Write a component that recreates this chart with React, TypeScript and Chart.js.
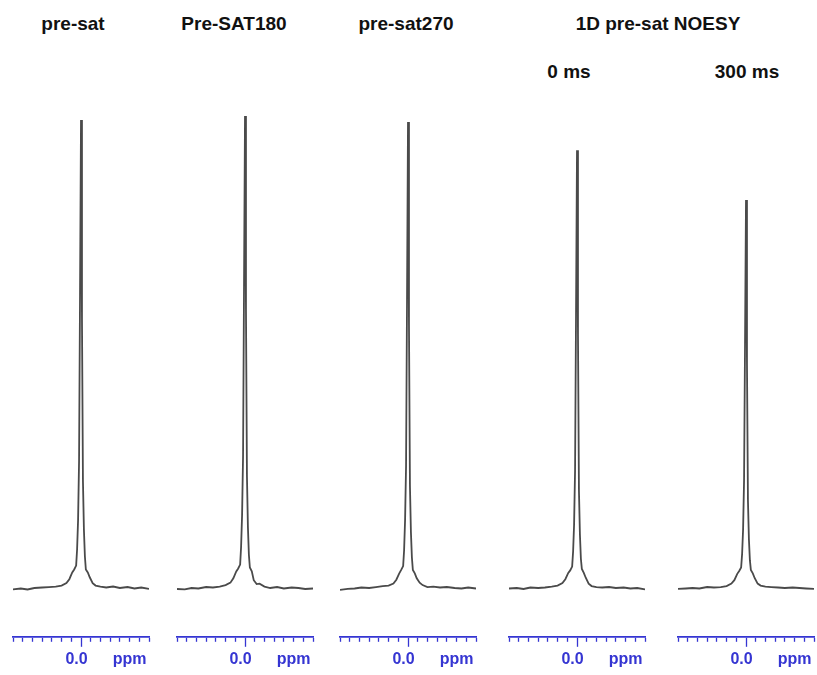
import React, { useEffect, useRef } from "react";
import { Chart, registerables } from "chart.js";

Chart.register(...registerables);

// Chemical-shift positions (ppm) shared by all five spectra (left = positive, NMR style)
const ppmPositions = [
  0.7, 0.62, 0.55, 0.48, 0.4, 0.33, 0.26, 0.2, 0.15, 0.12, 0.09, 0.07, 0.05, 0.04, 0.03, 0.02, 0.01, 0.0,
  -0.01, -0.02, -0.03, -0.04, -0.05, -0.07, -0.09, -0.12, -0.15, -0.2, -0.26, -0.33, -0.4, -0.48, -0.55, -0.62, -0.7,
];

// Intensities
const presatValues = [
  -0.3, -0.1, -0.3, 0.0, 0.1, 0.2, 0.3, 0.5, 1.0, 1.8, 3.2, 3.8, 4.6, 8, 14, 26, 60, 95.9,
  55, 22, 12, 6.5, 3.8, 3.2, 2.2, 1.0, 0.5, 0.3, 0.1, 0.3, 0.0, 0.2, -0.1, 0.1, -0.2,
];
const presat180Values = [
  -0.2, -0.3, 0.0, -0.1, 0.2, 0.1, 0.3, 0.6, 1.1, 2.0, 3.4, 4.0, 4.8, 8.5, 15, 27, 62, 96.7,
  57, 23, 12.5, 6.8, 4.2, 3.4, 1.6, 0.8, 0.9, 0.3, 0.0, 0.2, -0.1, 0.1, 0.0, -0.2, -0.1,
];
const presat270Values = [
  -0.4, -0.2, -0.1, 0.1, 0.0, 0.2, 0.4, 0.5, 0.9, 1.7, 3.0, 3.7, 4.5, 7.8, 14, 25, 59, 95.5,
  54, 21, 11.5, 6.3, 3.7, 3.0, 2.0, 1.1, 0.6, 0.2, 0.3, 0.1, 0.2, 0.0, -0.1, 0.1, -0.1,
];
const noesy0Values = [
  -0.1, 0.0, -0.2, 0.1, 0.0, 0.1, 0.3, 0.5, 1.0, 1.8, 3.1, 3.6, 4.4, 7.5, 13, 24, 56, 89.7,
  52, 20, 11, 6.0, 3.9, 3.1, 2.1, 0.9, 0.4, 0.2, 0.1, 0.2, 0.0, 0.1, -0.1, 0.0, -0.3,
];
const noesy300Values = [
  -0.2, -0.1, 0.0, -0.1, 0.2, 0.1, 0.2, 0.4, 0.9, 1.6, 2.9, 3.5, 4.2, 7.0, 12, 22, 50, 79.5,
  46, 18, 10, 5.7, 3.7, 3.0, 2.0, 0.9, 0.5, 0.3, 0.2, 0.1, 0.0, 0.1, 0.0, -0.1, -0.2,
];

const panelTitles = ["pre-sat", "Pre-SAT180", "pre-sat270", "0 ms", "300 ms"];
const groupTitle = "1D pre-sat NOESY";
const axisLabels = ["0.0", "ppm"]; // label at 0 ppm, unit label
const unitTickValue = -0.5;

const BLUE = "#3535d2";
const LINE = "#4a4a4a";

type Panel = { values: number[]; left: number; width: number; title: string; titleX: number; titleY: number };

const panels: Panel[] = [
  { values: presatValues, left: 10, width: 142, title: panelTitles[0], titleX: 73, titleY: 14 },
  { values: presat180Values, left: 174, width: 142, title: panelTitles[1], titleX: 234, titleY: 14 },
  { values: presat270Values, left: 337, width: 142, title: panelTitles[2], titleX: 406, titleY: 14 },
  { values: noesy0Values, left: 506, width: 142, title: panelTitles[3], titleX: 569, titleY: 62 },
  { values: noesy300Values, left: 675, width: 142, title: panelTitles[4], titleX: 747, titleY: 62 },
];

const CANVAS_TOP = 100;
const CANVAS_H = 572;

function Spectrum({ values }: { values: number[] }) {
  const ref = useRef<HTMLCanvasElement | null>(null);
  useEffect(() => {
    if (!ref.current) return;
    const chart = new Chart(ref.current, {
      type: "line",
      data: {
        datasets: [
          {
            data: ppmPositions.map((x, i) => ({ x, y: values[i] })),
            borderColor: LINE,
            borderWidth: 1.8,
            pointRadius: 0,
            tension: 0,
            fill: false,
          },
        ],
      },
      options: {
        animation: false,
        responsive: false,
        maintainAspectRatio: false,
        layout: { padding: 0 },
        plugins: { legend: { display: false }, tooltip: { enabled: false }, title: { display: false } },
        scales: {
          x: {
            type: "linear",
            reverse: true,
            min: -0.7,
            max: 0.7,
            border: { display: true, color: BLUE, width: 1.8 },
            grid: {
              drawOnChartArea: false,
              drawTicks: true,
              tickLength: 10,
              tickColor: BLUE,
              tickWidth: 1.3,
              tickBorderDash: (ctx: any) =>
                ctx.tick && Math.abs(ctx.tick.value) < 1e-6 ? [] : [4, 40],
            },
            ticks: {
              stepSize: 0.1,
              autoSkip: false,
              maxRotation: 0,
              padding: 3,
              color: BLUE,
              font: { family: "'Liberation Sans', Arial, sans-serif", size: 16, weight: "bold" },
              callback: (value: any) => {
                const v = Number(value);
                if (Math.abs(v) < 1e-6) return axisLabels[0] + "  ";
                if (Math.abs(v - unitTickValue) < 1e-6) return axisLabels[1];
                return "";
              },
            },
          },
          y: { display: false, min: -10, max: 100 },
        },
      },
    } as any);
    return () => chart.destroy();
  }, [values]);
  return <canvas ref={ref} width={142} height={CANVAS_H} style={{ display: "block" }} />;
}

const titleStyle: React.CSSProperties = {
  position: "absolute",
  transform: "translateX(-50%)",
  whiteSpace: "nowrap",
  fontFamily: "'Liberation Sans', Arial, sans-serif",
  fontWeight: "bold",
  fontSize: 19,
  lineHeight: "19px",
  color: "#111",
};

export default function App() {
  return (
    <div
      style={{
        position: "fixed",
        left: 0,
        top: 0,
        width: 817,
        height: 675,
        background: "#fff",
        overflow: "hidden",
      }}
    >
      {panels.map((p, i) => (
        <div key={"t" + i} style={{ ...titleStyle, left: p.titleX, top: p.titleY }}>
          {p.title}
        </div>
      ))}
      <div style={{ ...titleStyle, left: 658, top: 14 }}>{groupTitle}</div>
      {panels.map((p, i) => (
        <div key={"c" + i} style={{ position: "absolute", left: p.left, top: CANVAS_TOP, width: p.width, height: CANVAS_H }}>
          <Spectrum values={p.values} />
        </div>
      ))}
    </div>
  );
}
